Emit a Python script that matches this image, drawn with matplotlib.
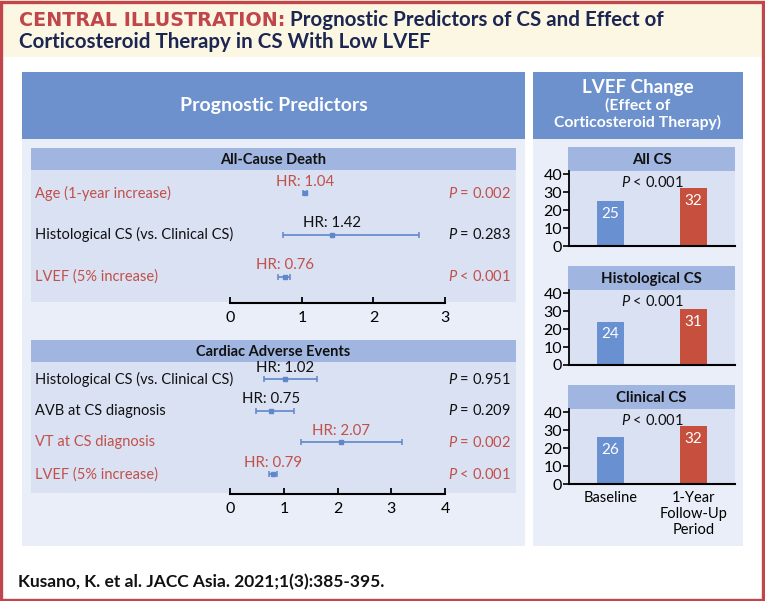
#!/usr/bin/env python3
"""Central illustration: prognostic predictors of CS and LVEF change."""

import matplotlib
matplotlib.use("Agg")
import matplotlib.pyplot as plt
from matplotlib.patches import Rectangle
from matplotlib.transforms import blended_transform_factory

# ---- data ----
death_labels = ["Age (1-year increase)", "Histological CS (vs. Clinical CS)", "LVEF (5% increase)"]
death_hr = [1.04, 1.42, 0.76]
death_lo = [1.01, 0.74, 0.67]
death_hi = [1.07, 2.63, 0.84]
death_p = ["= 0.002", "= 0.283", "< 0.001"]
death_sig = [True, False, True]
death_ticks = [0, 1, 2, 3]

cae_labels = ["Histological CS (vs. Clinical CS)", "AVB at CS diagnosis",
              "VT at CS diagnosis", "LVEF (5% increase)"]
cae_hr = [1.02, 0.75, 2.07, 0.79]
cae_lo = [0.62, 0.47, 1.31, 0.72]
cae_hi = [1.62, 1.18, 3.20, 0.87]
cae_p = ["= 0.951", "= 0.209", "= 0.002", "< 0.001"]
cae_sig = [False, False, True, True]
cae_ticks = [0, 1, 2, 3, 4]

lvef_groups = ["All CS", "Histological CS", "Clinical CS"]
lvef_baseline = [25, 24, 26]
lvef_followup = [32, 31, 32]
lvef_p = ["< 0.001", "< 0.001", "< 0.001"]
lvef_periods = ["Baseline", "1-Year\nFollow-Up\nPeriod"]
lvef_yticks = [0, 10, 20, 30, 40]

# ---- style ----
BORDER = "#c1464c"
CREAM = "#fcf7e2"
NAVY = "#1c2653"
HEAD = "#6c91cd"
PANEL = "#e9eef8"
SUB = "#a0b6e1"
CONTENT = "#d9e1f2"
RED_TXT = "#c2504a"
RED_BAR = "#c64f3d"
BLUE_BAR = "#6990d1"
CI_BLUE = "#5f88cb"

FONT = "Lato"
plt.rcParams["font.family"] = [FONT, "DejaVu Sans"]
plt.rcParams["mathtext.fontset"] = "custom"
plt.rcParams["mathtext.rm"] = FONT
plt.rcParams["mathtext.it"] = FONT + ":italic"

W, H = 765, 601
fig = plt.figure(figsize=(W / 100, H / 100), dpi=100)
fig.patch.set_facecolor("white")

bg = fig.add_axes([0, 0, 1, 1])
bg.set_xlim(0, W)
bg.set_ylim(H, 0)
bg.axis("off")


def box(x0, y0, x1, y1, color, z=0):
    bg.add_patch(Rectangle((x0, y0), x1 - x0, y1 - y0, facecolor=color,
                           edgecolor="none", zorder=z))


def px_axes(x0, y0, x1, y1):
    return fig.add_axes([x0 / W, 1 - y1 / H, (x1 - x0) / W, (y1 - y0) / H])


# header
box(0, 0, W, 57, CREAM)
t1 = bg.text(19, 20, "CENTRAL ILLUSTRATION:", color=BORDER, fontsize=13.8,
             fontweight="bold", family="DejaVu Sans", va="center")
bg.annotate(" Prognostic Predictors of CS and Effect of", xy=(1, 0.5),
            xycoords=t1, va="center", ha="left", color=NAVY, fontsize=14.8,
            fontweight="bold")
bg.text(19, 42, "Corticosteroid Therapy in CS With Low LVEF", color=NAVY,
        fontsize=14.8, fontweight="bold", va="center")
bg.add_patch(Rectangle((1.5, 1.5), W - 3, H - 3, facecolor="none",
                       edgecolor=BORDER, linewidth=2.4, zorder=10))

# panels
box(22, 72, 525, 546, PANEL)
box(22, 72, 525, 139, HEAD)
bg.text(273.5, 105, "Prognostic Predictors", color="white", fontsize=14,
        fontweight="bold", ha="center", va="center")
box(533, 72, 743, 546, PANEL)
box(533, 72, 743, 139, HEAD)
bg.text(638, 87, "LVEF Change", color="white", fontsize=13.5,
        fontweight="bold", ha="center", va="center")
bg.text(638, 114, "(Effect of\nCorticosteroid Therapy)", color="white",
        fontsize=11.3, fontweight="bold", ha="center", va="center",
        linespacing=1.2)

bg.text(18, 582, "Kusano, K. et al. JACC Asia. 2021;1(3):385-395.", color="#111111",
        fontsize=12.5, fontweight="bold", va="center")


def forest(title, sub_y, content_y1, axis_y, labels, hr, lo, hi, pv, sig, ticks):
    box(31, sub_y, 516, sub_y + 22, SUB)
    box(31, sub_y + 22, 516, content_y1, CONTENT)
    bg.text(273.5, sub_y + 11.5, title, color="#111111", fontsize=10.5,
            fontweight="bold", ha="center", va="center")
    top = sub_y + 22
    n = len(labels)
    step = (content_y1 - top) / (n + 0.15)
    ax = px_axes(230.4, top, 445, axis_y)
    ax.set_facecolor("none")
    ax.set_xlim(ticks[0], ticks[-1])
    first = (top + step * 0.55)
    ax.set_ylim((axis_y - first) / step, -(first - top) / step)
    tr = blended_transform_factory(bg.transData, ax.transData)
    for i in range(n):
        col = RED_TXT if sig[i] else "#111111"
        ax.plot([lo[i], hi[i]], [i, i], color=CI_BLUE, lw=1.2,
                solid_capstyle="butt")
        ax.plot([lo[i], hi[i]], [i, i], ls="none", marker="|", ms=4,
                mew=1.1, color=CI_BLUE)
        ax.plot([hr[i]], [i], ls="none", marker="s", ms=2.6, color=CI_BLUE)
        ax.annotate(f"HR: {hr[i]:.2f}", (hr[i], i), xytext=(0, 8.3),
                    textcoords="offset points", ha="center", va="center",
                    color=col, fontsize=10.8)
        ax.text(35.5, i, labels[i], transform=tr, color=col, fontsize=10.5,
                va="center", ha="left")
        ax.text(511, i, r"$\it{P}$ " + pv[i], transform=tr, color=col,
                fontsize=10.5, va="center", ha="right")
    for s in ["top", "right", "left"]:
        ax.spines[s].set_visible(False)
    ax.spines["bottom"].set_linewidth(1.5)
    ax.set_yticks([])
    ax.set_xticks(ticks)
    ax.tick_params(axis="x", direction="in", length=4, width=1.3,
                   labelsize=11.5, pad=6)
    return ax


forest("All-Cause Death", 148, 302, 303, death_labels, death_hr, death_lo,
       death_hi, death_p, death_sig, death_ticks)
forest("Cardiac Adverse Events", 340, 493, 494, cae_labels, cae_hr, cae_lo,
       cae_hi, cae_p, cae_sig, cae_ticks)

# LVEF bar charts
zero_rows = [246, 365, 484]
for g in range(len(lvef_groups)):
    y0 = zero_rows[g]
    top = y0 - 75
    box(568, top - 24, 735, top, SUB)
    bg.text(651.5, top - 11.5, lvef_groups[g], color="#111111", fontsize=10.8,
            fontweight="bold", ha="center", va="center")
    ax = px_axes(569, top, 735, y0)
    ax.set_facecolor(CONTENT)
    ax.set_xlim(-0.5, 1.5)
    ax.set_ylim(0, 41.7)
    vals = [lvef_baseline[g], lvef_followup[g]]
    bars = ax.bar([0, 1], vals, width=0.33, color=[BLUE_BAR, RED_BAR])
    for b, v in zip(bars, vals):
        ax.annotate(str(v), (b.get_x() + b.get_width() / 2, v), xytext=(0, -9),
                    textcoords="offset points", ha="center", va="center",
                    color="white", fontsize=11)
    ax.text(0.5, 35.3, r"$\it{P}$ " + lvef_p[g], ha="center", va="center",
            fontsize=10.5, color="#111111")
    for s in ["top", "right"]:
        ax.spines[s].set_visible(False)
    ax.spines["left"].set_linewidth(1.3)
    ax.spines["bottom"].set_linewidth(1.5)
    ax.set_yticks(lvef_yticks)
    ax.tick_params(axis="y", direction="out", length=4, width=1.2,
                   labelsize=11.5, pad=1)
    if g == len(lvef_groups) - 1:
        ax.set_xticks([0, 1])
        ax.set_xticklabels(lvef_periods, fontsize=10.5, linespacing=1.2, va="top")
        ax.tick_params(axis="x", length=0, pad=5)
    else:
        ax.set_xticks([])

fig.savefig("out.png", dpi=100)
